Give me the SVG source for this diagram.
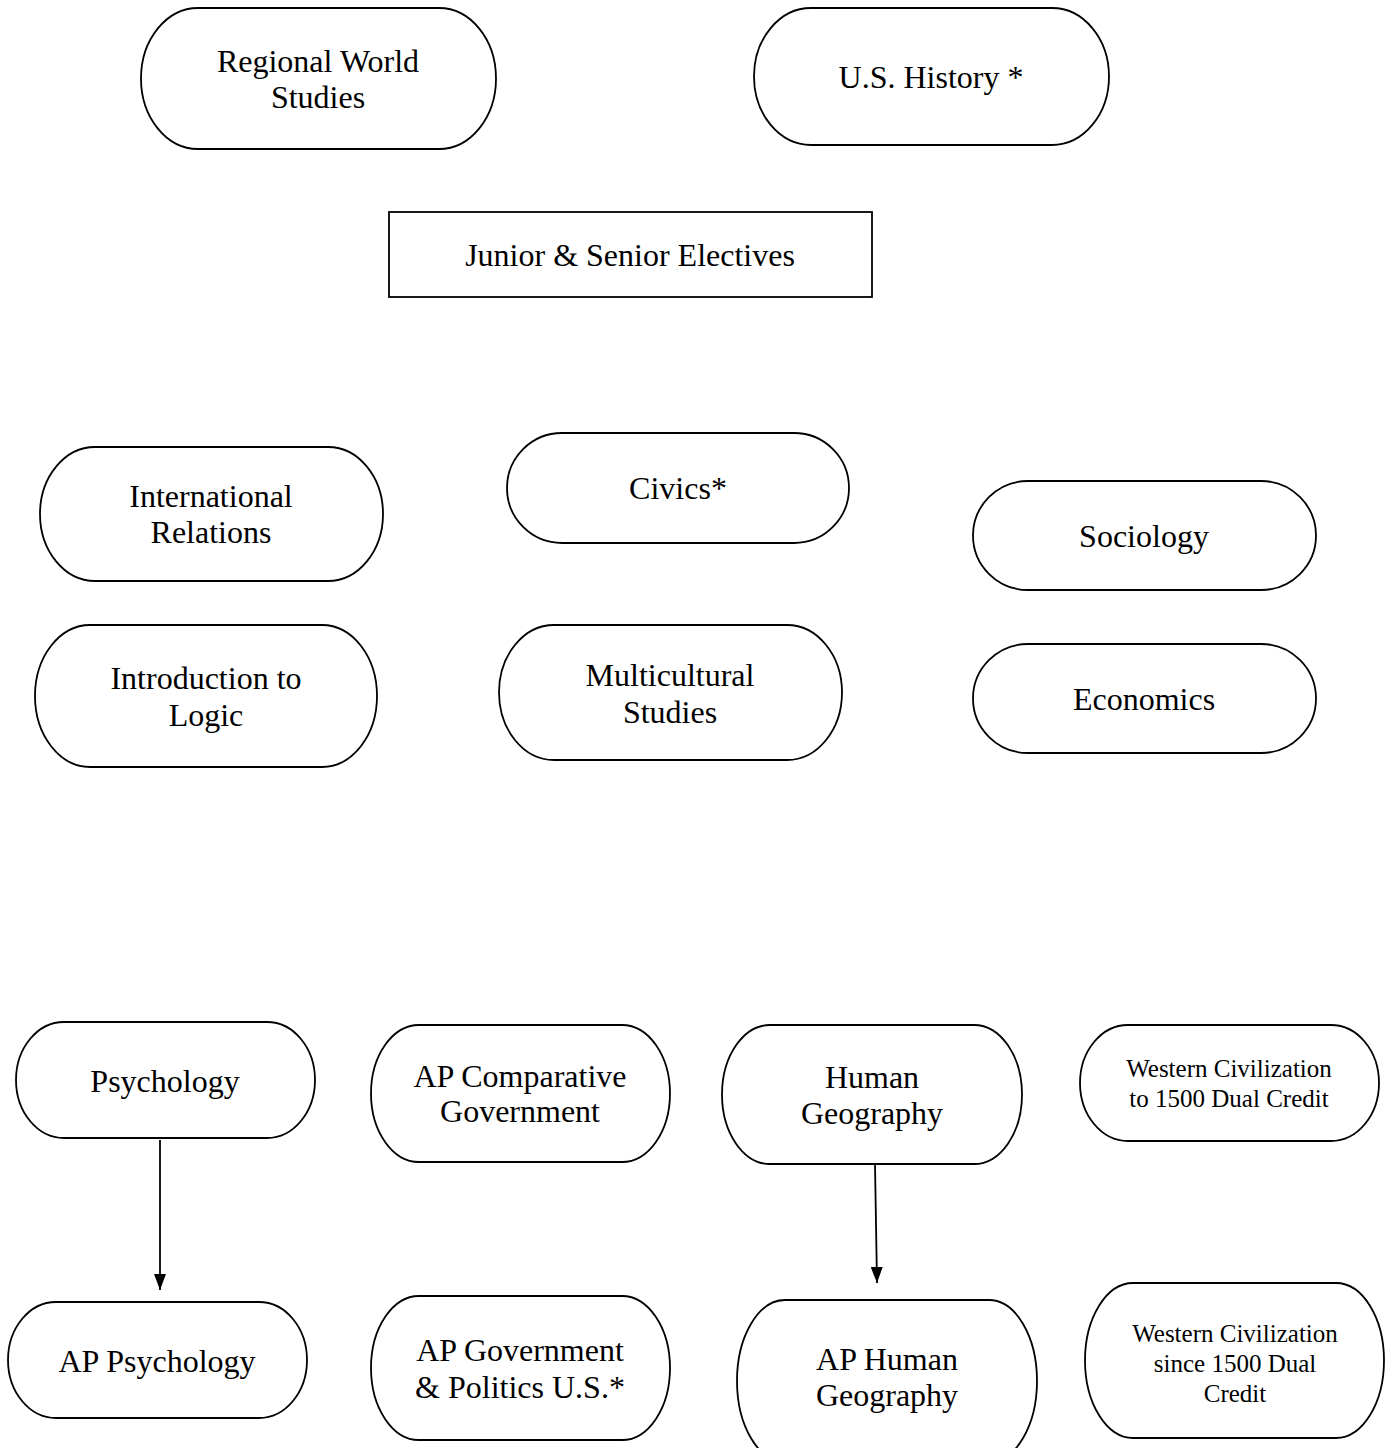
<svg xmlns="http://www.w3.org/2000/svg" width="1396" height="1448" viewBox="0 0 1396 1448">
<defs>
<style>
.n{fill:#fff;stroke:#000;stroke-width:1.8}
.t{font-family:"Liberation Serif","Times New Roman",serif;font-size:32px;fill:#000;text-anchor:middle}
.s{font-size:25px}
.c{stroke:#000;stroke-width:1.8;fill:none}
</style>
<marker id="ah" viewBox="0 0 16 12" refX="16" refY="6" markerWidth="16" markerHeight="12" markerUnits="userSpaceOnUse" orient="auto">
<path d="M0,0 L16,6 L0,12 Z" fill="#000"/>
</marker>
</defs>
<rect width="1396" height="1448" fill="#fff"/>
<g id="connectors">
<line class="c" x1="160" y1="1140" x2="160" y2="1290" marker-end="url(#ah)"/>
<line class="c" x1="875" y1="1164" x2="877" y2="1283" marker-end="url(#ah)"/>
</g>
<g id="regional"><rect class="n" x="141" y="8" width="355" height="141" rx="57" ry="70.5"/><text class="t" x="318" y="72">Regional World</text><text class="t" x="318" y="108">Studies</text></g>
<g id="ushistory"><rect class="n" x="754" y="8" width="355" height="137" rx="57" ry="68.5"/><text class="t" x="931" y="88">U.S. History *</text></g>
<g id="junior"><rect class="n" x="389" y="212" width="483" height="85"/><text class="t" x="630" y="266">Junior &amp; Senior Electives</text></g>
<g id="intl"><rect class="n" x="40" y="447" width="343" height="134" rx="55" ry="67"/><text class="t" x="211" y="507">International</text><text class="t" x="211" y="543">Relations</text></g>
<g id="civics"><rect class="n" x="507" y="433" width="342" height="110" rx="55" ry="55"/><text class="t" x="678" y="499">Civics*</text></g>
<g id="sociology"><rect class="n" x="973" y="481" width="343" height="109" rx="55" ry="54.5"/><text class="t" x="1144" y="547">Sociology</text></g>
<g id="logic"><rect class="n" x="35" y="625" width="342" height="142" rx="55" ry="71"/><text class="t" x="206" y="689">Introduction to</text><text class="t" x="206" y="726">Logic</text></g>
<g id="multicultural"><rect class="n" x="499" y="625" width="343" height="135" rx="55" ry="67.5"/><text class="t" x="670" y="686">Multicultural</text><text class="t" x="670" y="723">Studies</text></g>
<g id="economics"><rect class="n" x="973" y="644" width="343" height="109" rx="55" ry="54.5"/><text class="t" x="1144" y="710">Economics</text></g>
<g id="psychology"><rect class="n" x="16" y="1022" width="299" height="116" rx="48" ry="58"/><text class="t" x="165" y="1092">Psychology</text></g>
<g id="apcomp"><rect class="n" x="371" y="1025" width="299" height="137" rx="48" ry="68.5"/><text class="t" x="520" y="1087">AP Comparative</text><text class="t" x="520" y="1122">Government</text></g>
<g id="humangeo"><rect class="n" x="722" y="1025" width="300" height="139" rx="48" ry="69.5"/><text class="t" x="872" y="1088">Human</text><text class="t" x="872" y="1124">Geography</text></g>
<g id="westciv1"><rect class="n" x="1080" y="1025" width="299" height="116" rx="48" ry="58"/><text class="t s" x="1229" y="1077">Western Civilization</text><text class="t s" x="1229" y="1107">to 1500 Dual Credit</text></g>
<g id="appsych"><rect class="n" x="8" y="1302" width="299" height="116" rx="48" ry="58"/><text class="t" x="157" y="1372">AP Psychology</text></g>
<g id="apgov"><rect class="n" x="371" y="1296" width="299" height="144" rx="48" ry="72"/><text class="t" x="520" y="1361">AP Government</text><text class="t" x="520" y="1398">&amp; Politics U.S.*</text></g>
<g id="aphumangeo"><rect class="n" x="737" y="1300" width="300" height="162" rx="48" ry="81"/><text class="t" x="887" y="1370">AP Human</text><text class="t" x="887" y="1406">Geography</text></g>
<g id="westciv2"><rect class="n" x="1085" y="1283" width="299" height="155" rx="48" ry="77.5"/><text class="t s" x="1235" y="1342">Western Civilization</text><text class="t s" x="1235" y="1372">since 1500 Dual</text><text class="t s" x="1235" y="1402">Credit</text></g>
</svg>
